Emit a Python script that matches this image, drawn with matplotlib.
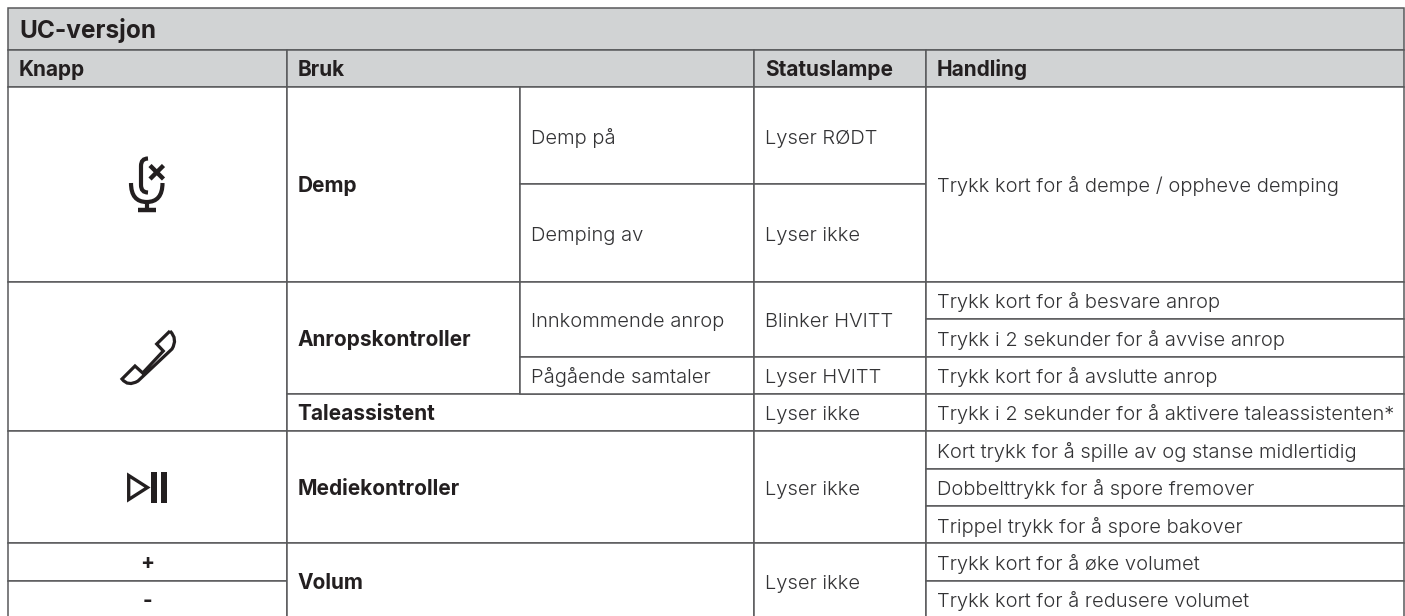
import matplotlib
matplotlib.use("Agg")
import matplotlib.pyplot as plt
from matplotlib.patches import Rectangle, PathPatch, Polygon
from matplotlib.path import Path

plt.rcParams['font.family'] = ['Inter', 'DejaVu Sans']

# table text
title = "UC-versjon"
headers = ["Knapp", "Bruk", "Statuslampe", "Handling"]
buttons = ["+", "-"]
uses = ["Demp", "Anropskontroller", "Taleassistent", "Mediekontroller", "Volum"]
sub_uses = ["Demp på", "Demping av", "Innkommende anrop", "Pågående samtaler"]
status = ["Lyser RØDT", "Lyser ikke", "Blinker HVITT", "Lyser HVITT", "Lyser ikke", "Lyser ikke", "Lyser ikke"]
actions = ["Trykk kort for å dempe / oppheve demping",
           "Trykk kort for å besvare anrop",
           "Trykk i 2 sekunder for å avvise anrop",
           "Trykk kort for å avslutte anrop",
           "Trykk i 2 sekunder for å aktivere taleassistenten*",
           "Kort trykk for å spille av og stanse midlertidig",
           "Dobbelttrykk for å spore fremover",
           "Trippel trykk for å spore bakover",
           "Trykk kort for å øke volumet",
           "Trykk kort for å redusere volumet"]

# grid edges in pixels
X = [7.5, 286.5, 520, 754.3, 925.7, 1404]
Y = [8, 49.7, 87, 184, 281.5, 319, 356.7, 394, 431, 468.7, 506, 543.3, 580.7, 618]

# spans (col0, col1, row0, row1) for each list above
header_spans = [(0, 1), (1, 3), (3, 4), (4, 5)]
button_spans = [(0, 1, 2, 4), (0, 1, 4, 8), (0, 1, 8, 11), (0, 1, 11, 12), (0, 1, 12, 13)]
use_spans = [(1, 2, 2, 4), (1, 2, 4, 7), (1, 3, 7, 8), (1, 3, 8, 11), (1, 3, 11, 13)]
sub_spans = [(2, 3, 2, 3), (2, 3, 3, 4), (2, 3, 4, 6), (2, 3, 6, 7)]
status_spans = [(3, 4, 2, 3), (3, 4, 3, 4), (3, 4, 4, 6), (3, 4, 6, 7), (3, 4, 7, 8), (3, 4, 8, 11), (3, 4, 11, 13)]
action_spans = [(4, 5, 2, 4), (4, 5, 4, 5), (4, 5, 5, 6), (4, 5, 6, 7), (4, 5, 7, 8),
                (4, 5, 8, 9), (4, 5, 9, 10), (4, 5, 10, 11), (4, 5, 11, 12), (4, 5, 12, 13)]

LINE = "#58595b"
GREY = "#d1d3d4"
DARK = "#231f20"
BODY = "#333335"
BOLD_SIZE = 15
BODY_SIZE = 14.5


def cell(x0, x1, y0, y1, fill="white"):
    ax.add_patch(Rectangle((x0, y0), x1 - x0, y1 - y0, facecolor=fill, edgecolor=LINE, linewidth=1.1))


def label(x, y, s, bold=False, size=None, ha="left"):
    ax.text(x, y + 8, s, ha=ha, va="baseline", color=DARK if bold else BODY,
            fontweight="bold" if bold else 300, fontsize=size or (BOLD_SIZE if bold else BODY_SIZE))


fig = plt.figure(figsize=(14.05, 6.16), dpi=100)
ax = fig.add_axes([0, 0, 1, 1])
ax.set_xlim(0, 1405)
ax.set_ylim(616, 0)
ax.axis("off")

cell(X[0], X[5], Y[0], Y[1], GREY)
label(19, 30, title, bold=True, size=17.6)

for (c0, c1), s in zip(header_spans, headers):
    cell(X[c0], X[c1], Y[1], Y[2], GREY)
    label(X[c0] + 11, (Y[1] + Y[2]) / 2, s, bold=True)

for c0, c1, r0, r1 in button_spans:
    cell(X[c0], X[c1], Y[r0], Y[r1])
for i, s in enumerate(buttons):
    c0, c1, r0, r1 = button_spans[3 + i]
    label((X[c0] + X[c1]) / 2, (Y[r0] + Y[r1]) / 2 - 0.5, s, bold=True, ha="center")

for (c0, c1, r0, r1), s in zip(use_spans, uses):
    cell(X[c0], X[c1], Y[r0], Y[r1])
    label(X[c0] + 11, (Y[r0] + Y[r1]) / 2, s, bold=True)

for spans, texts in [(sub_spans, sub_uses), (status_spans, status), (action_spans, actions)]:
    for (c0, c1, r0, r1), s in zip(spans, texts):
        cell(X[c0], X[c1], Y[r0], Y[r1])
        label(X[c0] + 11, (Y[r0] + Y[r1]) / 2, s)

# mute icon
ax.add_patch(PathPatch(Path([(148, 158.5), (141, 158.5), (141, 166), (141, 185), (141, 192.5), (148, 192.5)],
                            [Path.MOVETO, Path.CURVE3, Path.CURVE3, Path.LINETO, Path.CURVE3, Path.CURVE3]),
                       fill=False, edgecolor=DARK, linewidth=3, capstyle="butt"))
ax.add_patch(PathPatch(Path([(131, 183), (131, 202), (146.7, 202), (162.5, 202), (162.5, 183)],
                            [Path.MOVETO, Path.CURVE3, Path.CURVE3, Path.CURVE3, Path.CURVE3]),
                       fill=False, edgecolor=DARK, linewidth=3, capstyle="butt"))
ax.plot([146.7, 146.7], [201, 209], color=DARK, lw=3, solid_capstyle="butt")
ax.plot([137.5, 156], [209.7, 209.7], color=DARK, lw=3.2, solid_capstyle="butt")
ax.plot([150, 163.5], [165.5, 179], color=DARK, lw=3.2, solid_capstyle="butt")
ax.plot([150, 163.5], [179, 165.5], color=DARK, lw=3.2, solid_capstyle="butt")

# phone icon
phone = [(170, 331), (178, 339), (172, 349), (138, 381), (128, 387), (122, 379), (135, 366),
         (142.7, 373), (163.3, 351), (156.7, 344), (170, 331)]
phone_codes = [Path.MOVETO, Path.CURVE3, Path.CURVE3, Path.LINETO, Path.CURVE3, Path.CURVE3,
               Path.LINETO, Path.LINETO, Path.LINETO, Path.LINETO, Path.LINETO]
ax.add_patch(PathPatch(Path(phone, phone_codes), fill=False, edgecolor=DARK, linewidth=2.3, joinstyle="miter"))

# play / pause icon
ax.add_patch(Polygon([(128.7, 475.5), (147.5, 487.5), (128.7, 499.5)], closed=True, fill=False,
                     edgecolor=DARK, linewidth=2.4, joinstyle="miter"))
ax.add_patch(Rectangle((151, 472.3), 5.7, 30.4, facecolor=DARK, edgecolor="none"))
ax.add_patch(Rectangle((161.3, 472.3), 6, 30.4, facecolor=DARK, edgecolor="none"))

fig.savefig("out.png", dpi=100, facecolor="white")
